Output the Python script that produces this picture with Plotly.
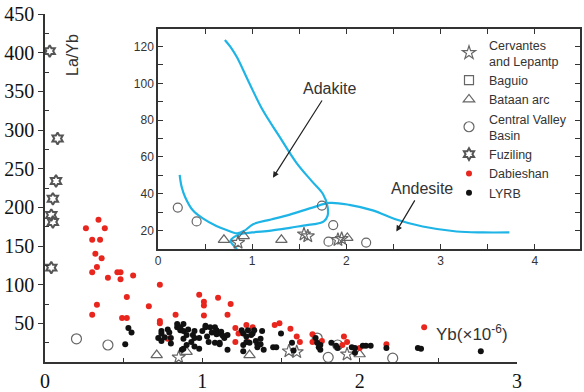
import plotly.graph_objects as go

# ---------------- data (main plot: Yb vs La/Yb) ----------------
fuz_x = [0.03, 0.08, 0.07, 0.05, 0.04, 0.05, 0.04]
fuz_y = [402, 289, 234, 211, 190, 181, 122]

dab_x = [0.26, 0.34, 0.38, 0.30, 0.35, 0.32, 0.36, 0.33, 0.30, 0.40, 0.46, 0.48, 0.48, 0.56,
         0.52, 0.33, 0.30, 0.49, 0.52, 0.66, 0.73, 0.98, 1.01, 1.01, 1.10, 1.01, 0.83, 0.73,
         0.73, 0.78, 1.18, 1.16, 1.21, 1.23, 1.21, 1.28, 1.32, 1.29, 1.46, 1.49, 1.56, 1.60,
         1.62, 1.70, 1.70, 1.76, 1.90, 1.92, 1.89, 2.00, 2.17, 2.41]
dab_y = [173, 184, 173, 158, 158, 140, 134, 123, 116, 109, 116, 116, 107, 112,
         84, 74, 61, 57, 57, 72, 100, 87, 78, 73, 83, 60, 61, 53,
         50, 30, 75, 61, 44, 37, 26, 48, 45, 26, 48, 50, 43, 33,
         26, 36, 26, 27, 33, 26, 22, 18, 23, 45]

lyrb_x = [0.53, 0.55, 0.51, 0.72, 0.74, 0.74, 0.74, 0.76, 0.78, 0.79, 0.80, 0.80,
          0.84, 0.84, 0.86, 0.86, 0.87, 0.88, 0.88, 0.88, 0.88, 0.90, 0.90, 0.91, 0.93,
          0.94, 0.95, 0.95, 0.95, 0.98, 0.98, 1.00, 1.02, 1.02, 1.03, 1.04, 1.05, 1.06,
          1.08, 1.08, 1.09, 1.09, 1.11, 1.11, 1.12, 1.11, 1.14, 1.16, 1.13, 1.16,
          1.25, 1.26, 1.26, 1.26, 1.28, 1.28, 1.29, 1.30, 1.31, 1.32, 1.33, 1.34, 1.35,
          1.35, 1.37, 1.37, 1.38, 1.39, 1.45, 1.47, 1.50, 1.57, 1.58, 1.72, 1.73, 1.74,
          1.75, 1.75, 1.82, 1.85, 1.86, 1.95, 1.97, 1.97, 2.02, 2.04, 2.07, 2.17, 2.37,
          2.39, 2.77]
lyrb_y = [44, 38, 23, 31, 27, 40, 37, 32, 42, 38, 24, 31,
          45, 49, 41, 45, 16, 49, 40, 30, 17, 35, 22, 42, 26,
          35, 40, 31, 20, 31, 17, 40, 45, 47, 33, 26, 45, 38,
          45, 25, 41, 36, 37, 23, 39, 25, 31, 16, 34, 35,
          41, 37, 22, 14, 26, 33, 41, 25, 35, 37, 41, 27, 23,
          19, 30, 23, 40, 16, 19, 19, 37, 25, 15, 31, 25, 19,
          22, 16, 25, 21, 18, 19, 18, 12, 21, 21, 21, 18, 18,
          17, 14]

cvb_x = [0.20, 0.40, 1.73, 1.86, 1.80, 2.21]
cvb_y = [30, 22, 31, 22, 6, 5]
bat_x = [0.71, 0.90, 1.30, 2.00]
bat_y = [9, 13, 9, 10]
cerv_x = [0.85, 1.55, 1.60, 1.92]
cerv_y = [6, 14, 13, 10]

# ---------------- data (inset) ----------------
in_cvb_x = [0.21, 0.41, 1.74, 1.86, 1.81, 2.21]
in_cvb_y = [32.5, 25, 33.6, 23, 14, 13.5]
in_bat_x = [0.70, 0.91, 1.31, 2.01]
in_bat_y = [15, 17, 15, 16]
in_cerv_x = [0.85, 1.55, 1.59, 1.91, 1.95]
in_cerv_y = [13.5, 18, 17, 15, 15.6]

adak_x = [0.71, 0.78, 0.84, 0.97, 1.11, 1.29, 1.47, 1.63, 1.75, 1.80, 1.80, 1.76,
          1.66, 1.58, 1.40, 1.20, 1.00, 0.87, 0.77, 0.80, 0.84]
adak_y = [123.5, 119, 114, 100, 85.6, 71, 56.8, 47, 40, 33, 28, 25,
          23.5, 23, 21.5, 20, 19, 18, 14.5, 12, 10]
ande_x = [0.23, 0.25, 0.29, 0.37, 0.48, 0.62, 0.72, 0.84, 0.92, 1.01, 1.20, 1.40,
          1.64, 1.82, 2.03, 2.28, 2.53, 2.81, 3.17, 3.45, 3.73]
ande_y = [50.3, 44, 38, 31, 26.5, 22.5, 20.5, 18.5, 20, 23.5, 26, 28.7,
          32.5, 35, 34, 31, 26, 22.2, 19.5, 19.0, 19]

GRAY = "#666666"
RED = "#e8261e"
BLACK = "#111111"
CYAN = "#1eb4e6"

fig = go.Figure()

def add(x, y, name, symbol, color, size, xa="x", ya="y", show=True, lw=1.2):
    fig.add_trace(go.Scatter(
        x=x, y=y, mode="markers", name=name, legendgroup=name, showlegend=show,
        xaxis=xa, yaxis=ya,
        marker=dict(symbol=symbol, color=color, size=size, line=dict(color=color, width=lw))))

# curves in inset (no legend)
fig.add_trace(go.Scatter(x=adak_x, y=adak_y, mode="lines", line=dict(color=CYAN, width=2.2, shape="spline"),
                         xaxis="x2", yaxis="y2", showlegend=False, hoverinfo="skip"))
fig.add_trace(go.Scatter(x=ande_x, y=ande_y, mode="lines", line=dict(color=CYAN, width=2.2, shape="spline"),
                         xaxis="x2", yaxis="y2", showlegend=False, hoverinfo="skip"))

add(cerv_x, cerv_y, "Cervantes<br>and Lepantp", "star-open", GRAY, 10)
add(in_cerv_x, in_cerv_y, "Cervantes<br>and Lepantp", "star-open", GRAY, 10, "x2", "y2", False)
add([None], [None], "Baguio", "square-open", GRAY, 9)
add(bat_x, bat_y, "Bataan arc", "triangle-up-open", GRAY, 10)
add(in_bat_x, in_bat_y, "Bataan arc", "triangle-up-open", GRAY, 10, "x2", "y2", False)
add(cvb_x, cvb_y, "Central Valley<br>Basin", "circle-open", GRAY, 10)
add(in_cvb_x, in_cvb_y, "Central Valley<br>Basin", "circle-open", GRAY, 9, "x2", "y2", False)
add(fuz_x, fuz_y, "Fuziling", "hexagram-open", "#555555", 9, lw=2)
add(dab_x, dab_y, "Dabieshan", "circle", RED, 6, lw=0)
add(lyrb_x, lyrb_y, "LYRB", "circle", BLACK, 6, lw=0)

serif = dict(family="Liberation Serif", size=20, color="#111111")
sans = dict(family="Liberation Sans", size=12, color="#333333")

L, R, T, B = 45, 4, 14, 30
W, H = 584, 392
pw = W - L - R
ph = H - T - B

def px_x(p):
    return (p - L) / pw

def px_y(p):
    return (H - B - p) / ph

fig.update_layout(
    width=W, height=H,
    margin=dict(l=L, r=R, t=T, b=B, autoexpand=False),
    paper_bgcolor="white", plot_bgcolor="white",
    font=sans,
    xaxis=dict(domain=[0, px_x(517)], range=[0, 3], showgrid=False, zeroline=False, automargin=False,
               showline=True, linecolor="#333333", linewidth=1.5,
               tickvals=[0, 1, 2, 3], ticks="inside", ticklen=4, tickcolor="#333333",
               minor=dict(tickvals=[0.5, 1.5, 2.5], ticks="inside", ticklen=4, tickcolor="#333333"),
               tickfont=serif),
    yaxis=dict(domain=[0, 1], range=[0, 450], showgrid=False, zeroline=False, automargin=False,
               showline=True, linecolor="#333333", linewidth=1.5,
               tickvals=[50, 100, 150, 200, 250, 300, 350, 400, 450], ticks="outside", ticklen=5,
               tickcolor="#333333",
               minor=dict(tickvals=[25, 75, 125, 175, 225, 275, 325, 375, 425], ticks="inside",
                          ticklen=4, tickcolor="#333333"),
               tickfont=serif),
    xaxis2=dict(domain=[px_x(158), 1.0], range=[0, 4.48], anchor="y2", showgrid=False, zeroline=False,
                automargin=False,
                showline=True, mirror="allticks", linecolor="#333333", linewidth=1.5,
                tickvals=[0, 1, 2, 3, 4], ticks="inside", ticklen=5, tickcolor="#333333",
                minor=dict(tickvals=[0.5, 1.5, 2.5, 3.5], ticks="inside", ticklen=5, tickcolor="#333333"),
                tickfont=dict(family="Liberation Sans", size=12, color="#333333")),
    yaxis2=dict(domain=[px_y(249), px_y(29)], range=[10, 129.5], anchor="x2", showgrid=False, zeroline=False,
                automargin=False,
                showline=True, mirror="allticks", linecolor="#333333", linewidth=1.5,
                tickvals=[20, 40, 60, 80, 100, 120], ticks="inside", ticklen=5, tickcolor="#333333",
                minor=dict(tickvals=[30, 50, 70, 90, 110], ticks="inside", ticklen=5, tickcolor="#333333"),
                tickfont=dict(family="Liberation Sans", size=12, color="#333333")),
    legend=dict(x=px_x(449), y=px_y(30), xanchor="left", yanchor="top",
                bgcolor="rgba(0,0,0,0)", font=dict(family="Liberation Sans", size=12.5, color="#333333"),
                tracegroupgap=0, itemwidth=30),
    showlegend=True,
)

fig.add_annotation(x=px_x(72), y=px_y(55), xref="paper", yref="paper", text="La/Yb",
                   textangle=-90, showarrow=False, xanchor="center", yanchor="middle",
                   font=dict(family="Liberation Sans", size=16, color="#333333"))
fig.add_annotation(x=px_x(472), y=px_y(333), xref="paper", yref="paper",
                   text="Yb(×10<sup>-6</sup>)", showarrow=False, xanchor="center", yanchor="middle",
                   font=dict(family="Liberation Sans", size=17, color="#333333"))
# inset labels with arrows (text sits at the arrow tail)
fig.add_annotation(x=1.22, y=48.7, ax=1.82, ay=97, xref="x2", yref="y2", axref="x2", ayref="y2",
                   text="Adakite", showarrow=True, arrowhead=2, arrowsize=1, arrowwidth=1.2,
                   arrowcolor="#222222", standoff=0, startstandoff=2,
                   font=dict(family="Liberation Sans", size=16, color="#333333"))
fig.add_annotation(x=2.53, y=19.5, ax=2.80, ay=42.8, xref="x2", yref="y2", axref="x2", ayref="y2",
                   text="Andesite", showarrow=True, arrowhead=2, arrowsize=1, arrowwidth=1.2,
                   arrowcolor="#222222", standoff=0, startstandoff=2,
                   font=dict(family="Liberation Sans", size=16, color="#333333"))

fig.write_html("out.html", config={"displayModeBar": False},
               post_script="document.body.style.margin='0px';document.body.style.overflow='hidden';")
